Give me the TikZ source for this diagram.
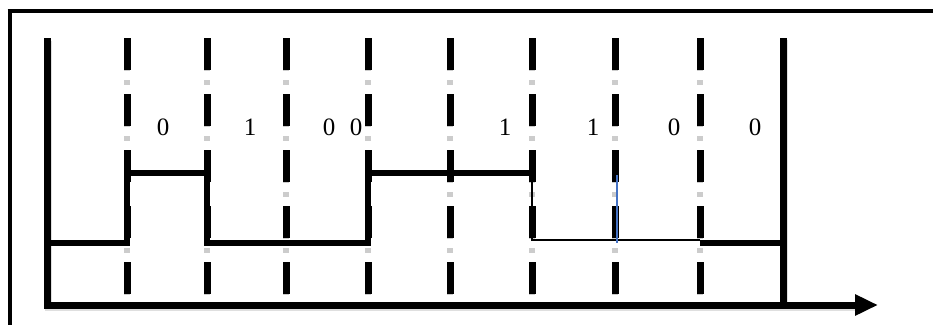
\documentclass[tikz,border=0pt]{standalone}
\usepackage{fontspec}
\setmainfont{Liberation Serif}
\usetikzlibrary{arrows.meta}
\tikzset{
  framerule/.style={line width=4pt, line cap=butt},
  axisline/.style={line width=7pt, line join=miter},
  sigline/.style={line width=6.5pt, line join=miter},
  thinsig/.style={line width=2pt},
  gridline/.style={line width=7pt, dash pattern=on 32pt off 24pt},
  griddots/.style={line width=6pt, gray!40, dash pattern=on 5pt off 9pt},
  shadowline/.style={gray!25, line width=7pt},
  markline/.style={line width=1.5pt, draw={rgb,255:red,68;green,114;blue,196}},
  bitlabel/.style={font=\fontsize{25}{29}\selectfont, inner sep=0pt},
}
\begin{document}
\begin{tikzpicture}[x=1pt,y=-1pt]
\useasboundingbox (0,0) rectangle (933,325);

% outer frame (top and left rules)
\draw[framerule] (9.5,9.3) -- (9.5,325);
\draw[framerule] (7.5,11.3) -- (933,11.3);

% bit-cell boundaries
\foreach \gx [count=\i] in {127,207,286,368,450,532,615,700} {
  \coordinate (gt\i) at (\gx,38);
  \coordinate (gb\i) at (\gx,298);
  \draw[griddots] (gt\i) -- (gb\i);
  \draw[gridline] (gt\i) -- (gb\i);
}

% axes
\coordinate (top) at (47,38);
\coordinate (origin) at (47,305);
\coordinate (tip) at (878,305);
\coordinate (rtop) at (783,38);
\coordinate (rbot) at (783,305);
\draw[shadowline] ([shift={(1.5,2.5)}]top) -- ([shift={(1.5,2.5)}]origin) -- ([shift={(1.5,2.5)}]855,305);
\draw[shadowline] ([shift={(1.5,2)}]rtop) -- ([shift={(1.5,2)}]rbot);
\draw[axisline, -{Triangle[length=23pt,width=20pt]}] (top) -- (origin) -- (tip);
\draw[axisline] (rtop) -- (rbot);

% signal levels
\coordinate (s0) at (47,243);
\coordinate (s1) at (127,243);
\coordinate (s2) at (127,173);
\coordinate (s3) at (207,173);
\coordinate (s4) at (207,243);
\coordinate (s5) at (368,243);
\coordinate (s6) at (368,173);
\coordinate (s7) at (532,173);
\coordinate (s8) at (532,240);
\coordinate (s9) at (700,240);
\coordinate (s10) at (700,243);
\coordinate (s11) at (783,243);
\draw[sigline] (s0) -- (s1) -- (s2) -- (s3) -- (s4) -- (s5) -- (s6) -- (s7);
\draw[thinsig] (s7) -- (s8) -- (s9);
\draw[sigline] (s10) -- (s11);

% marker inside the sixth cell
\coordinate (m1) at (617,175);
\coordinate (m2) at (617,243);
\draw[markline] (m1) -- (m2);

% bit values
\node[bitlabel] (b1) at (163,127) {0};
\node[bitlabel] (b2) at (250,127) {1};
\node[bitlabel] (b3) at (329,127) {0};
\node[bitlabel] (b4) at (356,127) {0};
\node[bitlabel] (b5) at (505,127) {1};
\node[bitlabel] (b6) at (593,127) {1};
\node[bitlabel] (b7) at (674,127) {0};
\node[bitlabel] (b8) at (755,127) {0};
\end{tikzpicture}
\end{document}
